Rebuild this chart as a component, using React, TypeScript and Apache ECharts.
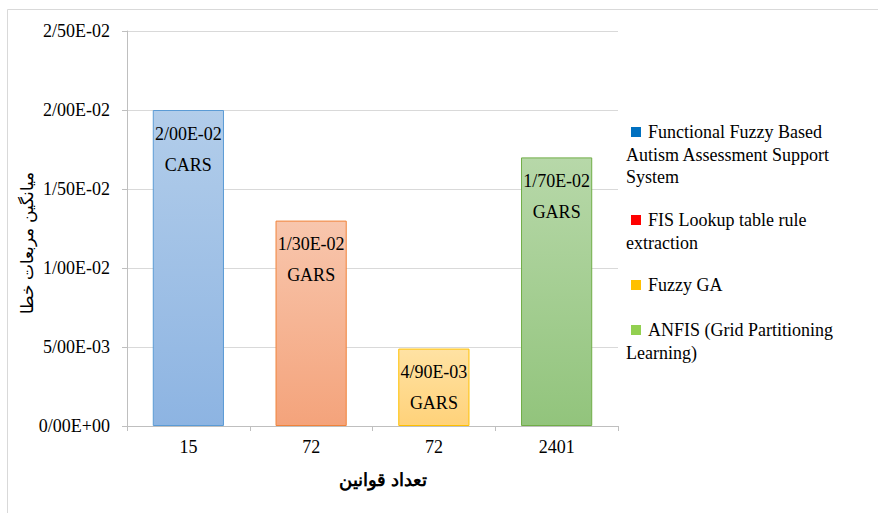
import React, { useEffect, useRef } from "react";
import * as echarts from "echarts";

const categories = ["15", "72", "72", "2401"];
const seriesNames = [
  "Functional Fuzzy Based Autism Assessment Support System",
  "FIS Lookup table rule extraction",
  "Fuzzy GA",
  "ANFIS (Grid Partitioning Learning)",
];
const legendLines = [
  ["Functional Fuzzy Based", "Autism Assessment Support", "System"],
  ["FIS Lookup table rule", "extraction"],
  ["Fuzzy GA"],
  ["ANFIS (Grid Partitioning", "Learning)"],
];
const values = [0.02, 0.013, 0.0049, 0.017];
const datasetNames = ["CARS", "GARS", "GARS", "GARS"];
const yTicks = { min: 0, max: 0.025, interval: 0.005 };
const xTitle = "تعداد قوانین";
const yTitle = "میانگین مربعات خطا";

const barTop = ["#b2cdea", "#f8c6ad", "#ffe2a3", "#b7d8a9"];
const barBottom = ["#8db4e2", "#f4a37b", "#ffd27a", "#92c47c"];
const barBorder = ["#5b9bd5", "#f0833a", "#ffc000", "#70ad47"];
const legendColors = ["#0070c0", "#ff0000", "#ffc000", "#92d050"];

const FONT = "'Liberation Serif', 'Times New Roman', serif";

function fmt(v: number): string {
  const [m, e] = v.toExponential(2).split("e");
  const sign = e.startsWith("-") ? "-" : "+";
  const digits = e.replace(/[+-]/, "").padStart(2, "0");
  return m.replace(".", "/") + "E" + sign + digits;
}

export default function App() {
  const ref = useRef<HTMLDivElement>(null);
  useEffect(() => {
    if (!ref.current) return;
    const chart = echarts.init(ref.current, undefined, { renderer: "svg" });
    const series = values.map((v, i) => ({
      type: "bar",
      name: seriesNames[i],
      stack: "all",
      barWidth: "58%",
      data: categories.map((_, j) => (j === i ? v : "-")),
      itemStyle: {
        color: new echarts.graphic.LinearGradient(0, 0, 0, 1, [
          { offset: 0, color: barTop[i] },
          { offset: 1, color: barBottom[i] },
        ]),
        borderColor: barBorder[i],
        borderWidth: 1,
      },
      label: {
        show: true,
        position: "insideTop",
        distance: 8,
        fontFamily: FONT,
        fontSize: 18,
        lineHeight: 31,
        color: "#000",
        formatter: () => fmt(v) + "\n" + datasetNames[i],
      },
    }));

    const legendGraphics: any[] = [];
    const entryY = [132, 220, 285, 330];
    legendLines.forEach((lines, i) => {
      legendGraphics.push({
        type: "rect",
        shape: { x: 631, y: entryY[i] - 5, width: 10, height: 10 },
        style: { fill: legendColors[i] },
      });
      lines.forEach((ln, k) => {
        legendGraphics.push({
          type: "text",
          x: k === 0 ? 648 : 626,
          y: entryY[i] + k * 22.5,
          style: {
            text: ln,
            font: `18px ${FONT}`,
            fill: "#000",
            verticalAlign: "middle",
            align: "left",
          },
        });
      });
    });

    chart.setOption({
      animation: false,
      grid: { left: 127, right: 260, top: 31, bottom: 87, containLabel: false },
      xAxis: {
        type: "category",
        data: categories,
        axisLine: { show: true, lineStyle: { color: "#bfbfbf", width: 1 } },
        axisTick: { show: true, length: 5, lineStyle: { color: "#bfbfbf" } },
        axisLabel: { fontFamily: FONT, fontSize: 18, color: "#000", margin: 12 },
      },
      yAxis: {
        type: "value",
        min: yTicks.min,
        max: yTicks.max,
        interval: yTicks.interval,
        axisLine: { show: true, lineStyle: { color: "#bfbfbf", width: 1 } },
        axisTick: { show: true, length: 5, lineStyle: { color: "#bfbfbf" } },
        splitLine: { lineStyle: { color: "#d9d9d9", width: 1 } },
        axisLabel: {
          fontFamily: FONT,
          fontSize: 18,
          color: "#000",
          margin: 17,
          formatter: (v: number) => fmt(v),
        },
      },
      series,
      graphic: [
        {
          type: "rect",
          silent: true,
          z: -10,
          shape: { x: 7.5, y: 9.5, width: 1000, height: 1000 },
          style: { fill: "none", stroke: "#d9d9d9", lineWidth: 1 },
        },
        {
          type: "text",
          x: 383,
          y: 480,
          style: {
            text: xTitle,
            font: `bold 18px ${FONT}`,
            fill: "#000",
            align: "center",
            verticalAlign: "middle",
          },
        },
        {
          type: "text",
          x: 27,
          y: 243,
          rotation: Math.PI / 2,
          style: {
            text: yTitle,
            font: `17px ${FONT}`,
            fill: "#000",
            align: "center",
            verticalAlign: "middle",
          },
        },
        ...legendGraphics,
      ],
    });
    return () => chart.dispose();
  }, []);
  return (
    <div
      ref={ref}
      style={{ position: "absolute", left: 0, top: 0, width: 878, height: 513, background: "#fff" }}
    />
  );
}
